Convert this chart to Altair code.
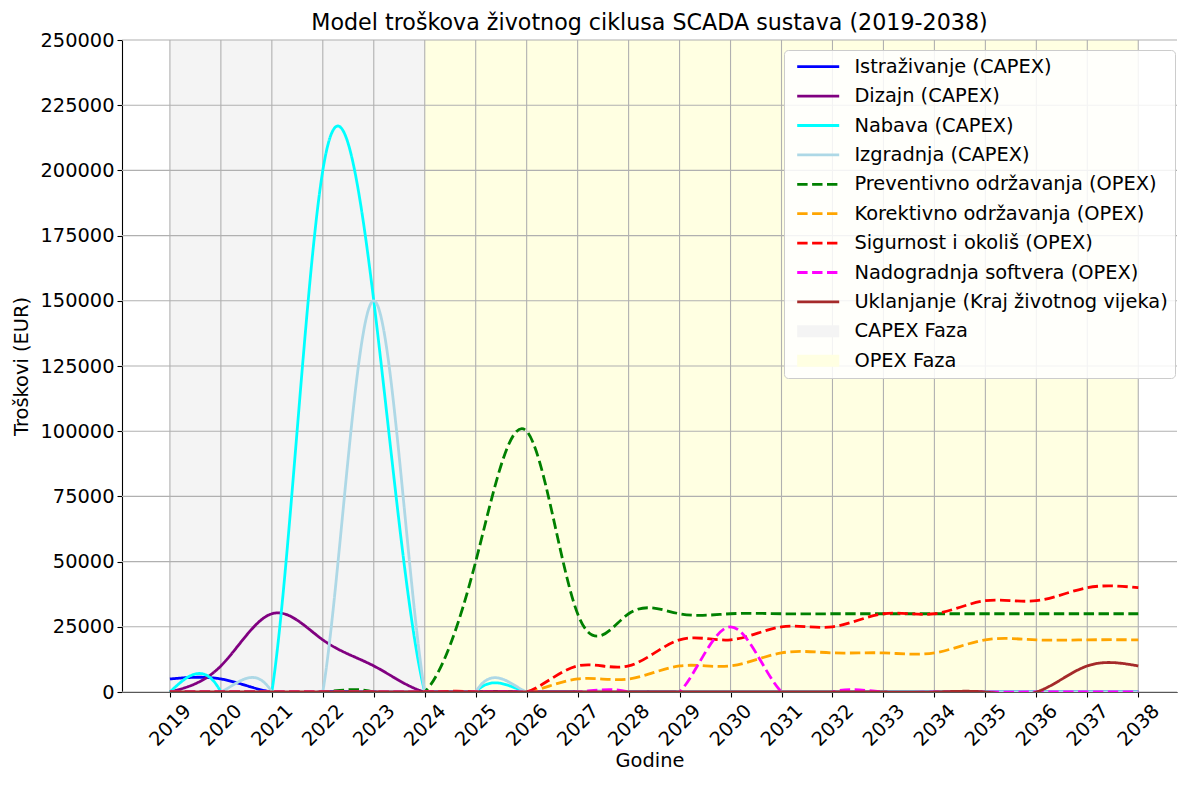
import altair as alt
import pandas as pd

# ---- data ----
years = [2019, 2020, 2021, 2022, 2023, 2024, 2025, 2026, 2027, 2028,
         2029, 2030, 2031, 2032, 2033, 2034, 2035, 2036, 2037, 2038]

series_names = [
    "Istraživanje (CAPEX)",
    "Dizajn (CAPEX)",
    "Nabava (CAPEX)",
    "Izgradnja (CAPEX)",
    "Preventivno održavanja (OPEX)",
    "Korektivno održavanja (OPEX)",
    "Sigurnost i okoliš (OPEX)",
    "Nadogradnja softvera (OPEX)",
    "Uklanjanje (Kraj životnog vijeka)",
]

istrazivanje = [5000, 5000, 0, 0, 0, 0, 0, 0, 0, 0, 0, 0, 0, 0, 0, 0, 0, 0, 0, 0]
dizajn = [0, 10000, 30000, 20000, 10000, 0, 0, 0, 0, 0, 0, 0, 0, 0, 0, 0, 0, 0, 0, 0]
nabava = [0, 0, 0, 200000, 150000, 0, 0, 0, 0, 0, 0, 0, 0, 0, 0, 0, 0, 0, 0, 0]
izgradnja = [0, 0, 0, 0, 150000, 0, 0, 0, 0, 0, 0, 0, 0, 0, 0, 0, 0, 0, 0, 0]
preventivno = [0, 0, 0, 0, 0, 0, 50000, 100000, 30000, 30000,
               30000, 30000, 30000, 30000, 30000, 30000, 30000, 30000, 30000, 30000]
korektivno = [0, 0, 0, 0, 0, 0, 0, 0, 5000, 5000,
              10000, 10000, 15000, 15000, 15000, 15000, 20000, 20000, 20000, 20000]
sigurnost = [0, 0, 0, 0, 0, 0, 0, 0, 10000, 10000,
             20000, 20000, 25000, 25000, 30000, 30000, 35000, 35000, 40000, 40000]
nadogradnja = [0, 0, 0, 0, 0, 0, 0, 0, 0, 0, 0, 25000, 0, 0, 0, 0, 0, 0, 0, 0]
uklanjanje = [0, 0, 0, 0, 0, 0, 0, 0, 0, 0, 0, 0, 0, 0, 0, 0, 0, 0, 10000, 10000]

series_values = [istrazivanje, dizajn, nabava, izgradnja, preventivno,
                 korektivno, sigurnost, nadogradnja, uklanjanje]
series_colors = ["#0000ff", "#800080", "#00ffff", "#add8e6", "#008000",
                 "#ffa500", "#ff0000", "#ff00ff", "#a52a2a"]
series_dashed = [False, False, False, False, True, True, True, True, False]

phase_names = ["CAPEX Faza", "OPEX Faza"]
phase_start = [2019, 2024]
phase_end = [2024, 2038]
phase_colors = ["#f4f4f4", "#ffffe2"]

y_ticks = [0, 25000, 50000, 75000, 100000, 125000, 150000, 175000, 200000, 225000, 250000]

# ---- tables ----
rows = []
for name, vals in zip(series_names, series_values):
    for yr, v in zip(years, vals):
        rows.append({"year": yr, "cost": v, "series": name})
df = pd.DataFrame(rows)

df_phase = pd.DataFrame({"phase": phase_names, "start": phase_start,
                         "end": phase_end, "fillc": phase_colors})
df_years = pd.DataFrame({"year": years})
df_yt = pd.DataFrame({"cost": y_ticks})

FONT = "DejaVu Sans"
FS = 19.4

xscale = alt.Scale(domain=[2018.06, 2038.76], nice=False, zero=False)
yscale = alt.Scale(domain=[0, 250000], nice=False)

xaxis = alt.Axis(values=years, format="d", title="Godine",
                 labelAngle=315, labelAlign="center", labelBaseline="middle",
                 labelPadding=28, labelOverlap=False, labelFlush=False,
                 titlePadding=2)
yaxis = alt.Axis(values=y_ticks, format="d", title="Troškovi (EUR)",
                 labelOverlap=False, labelFlush=False, titlePadding=8)

legend_domain = series_names + phase_names
legend_colors = series_colors + phase_colors
dash_range = [[10.4, 4.5] if d else [1, 0] for d in series_dashed] + [[1, 0], [1, 0]]

is_phase = "(datum.value == 'CAPEX Faza' || datum.value == 'OPEX Faza')"

legend = alt.Legend(
    title=None,
    orient="none",
    legendX=662,
    legendY=10,
    labelFont=FONT,
    labelFontSize=FS,
    labelColor="#000000",
    labelLimit=600,
    labelOffset=44,
    symbolType=alt.ExprRef("(" + is_phase + " ? 'M-1,-1.7H11V1.7H-1Z' : 'M-1,0H11')"),
    symbolSize=49,
    symbolStrokeWidth=alt.ExprRef("(" + is_phase + " ? 0 : 2.8)"),
    symbolFillColor=alt.ExprRef(
        "(datum.value == 'CAPEX Faza' ? '#f4f4f4' : (datum.value == 'OPEX Faza' ? '#ffffe2' : 'transparent'))"),
    rowPadding=8.4,
    padding=7,
    fillColor="rgba(255,255,255,0.85)",
    strokeColor="#cccccc",
    cornerRadius=4,
)

bands = alt.Chart(df_phase).mark_rect().encode(
    x=alt.X("start:Q", scale=xscale, axis=xaxis),
    x2="end:Q",
    fill=alt.Fill("fillc:N", scale=None, legend=None),
)

vgrid = alt.Chart(df_years).mark_rule(color="#b0b0b0", strokeWidth=1.1).encode(
    x=alt.X("year:Q", scale=xscale, axis=xaxis)
)
hgrid = alt.Chart(df_yt).mark_rule(color="#b0b0b0", strokeWidth=1.1).encode(
    y=alt.Y("cost:Q", scale=yscale, axis=yaxis)
)

lines = alt.Chart(df).mark_line(interpolate="natural", clip=True).encode(
    x=alt.X("year:Q", scale=xscale, axis=xaxis),
    y=alt.Y("cost:Q", scale=yscale, axis=yaxis),
    color=alt.Color("series:N", scale=alt.Scale(domain=legend_domain, range=legend_colors),
                    legend=legend),
    strokeDash=alt.StrokeDash("series:N", scale=alt.Scale(domain=legend_domain, range=dash_range),
                              legend=legend),
    strokeWidth=alt.value(2.8),
)

chart = alt.layer(bands, vgrid, hgrid, lines).properties(
    width=1170,
    height=765,
    autosize=alt.AutoSizeParams(type="fit", contains="padding"),
    padding={"left": 3, "top": 3, "right": 0, "bottom": 3},
    title=alt.TitleParams("Model troškova životnog ciklusa SCADA sustava (2019-2038)",
                          font=FONT, fontSize=22.2, fontWeight="normal", color="#000000",
                          anchor="middle", frame="group", offset=-4),
).configure_axis(
    labelFont=FONT, labelFontSize=FS, labelColor="#000000",
    titleFont=FONT, titleFontSize=FS, titleFontWeight="normal", titleColor="#000000",
    domainColor="#000000", domainWidth=1.1, tickColor="#000000", tickWidth=1.1, tickSize=5,
    labelPadding=3, grid=False,
).configure_view(strokeWidth=0)

chart.save("out.html", embed_options={"renderer": "svg", "actions": False})
